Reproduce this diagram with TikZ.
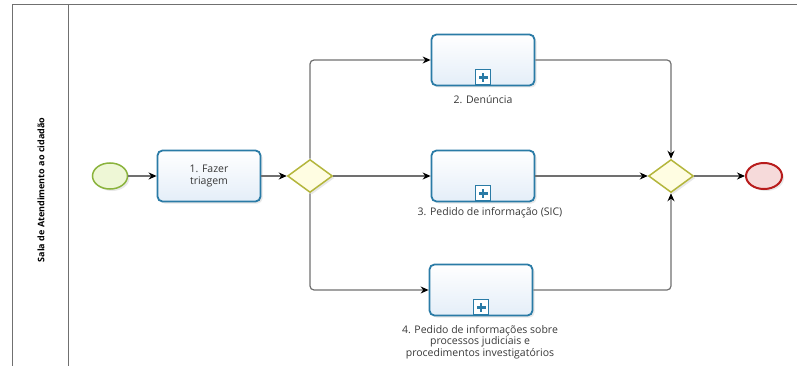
\documentclass[tikz,border=0pt]{standalone}
\usepackage{fontspec}
\setmainfont{Open Sans}
\usetikzlibrary{arrows.meta,shadows,positioning,shapes.geometric}
\definecolor{taskborder}{HTML}{2A7BA6}
\definecolor{taskfill}{HTML}{E4EEF8}
\definecolor{startborder}{HTML}{8AB33C}
\definecolor{startfill}{HTML}{EEF7D6}
\definecolor{gwborder}{HTML}{B4B63C}
\definecolor{gwfill}{HTML}{FFFDE2}
\definecolor{endborder}{HTML}{B81C1C}
\definecolor{endfill}{HTML}{F6DADA}
\definecolor{linegray}{HTML}{707070}
\definecolor{textgray}{HTML}{383838}
\tikzset{
  soft/.style={drop shadow={opacity=0.18,shadow xshift=2pt,shadow yshift=-2pt}},
  taskbox/.style={draw=taskborder,line width=1.8pt,rounded corners=5pt,
    top color=white,bottom color=taskfill,minimum width=103pt,minimum height=51pt,
    inner sep=0pt,align=center,font=\fontsize{10.5}{12}\selectfont,text=textgray,soft},
  startev/.style={draw=startborder,line width=1.5pt,ellipse,fill=startfill,
    minimum width=35pt,minimum height=26pt,inner sep=0pt,soft},
  endev/.style={draw=endborder,line width=2pt,ellipse,fill=endfill,
    minimum width=36pt,minimum height=26pt,inner sep=0pt,soft},
  gate/.style={draw=gwborder,line width=1.5pt,diamond,fill=gwfill,
    minimum width=45pt,minimum height=33pt,inner sep=0pt,soft},
  flow/.style={draw=linegray,line width=1.2pt,rounded corners=4pt,
    -{Stealth[length=8pt,width=7pt,fill=black,color=black]}},
  lbl/.style={font=\fontsize{10.5}{11.5}\selectfont,text=textgray,align=center},
  marker/.style={draw=taskborder,line width=1.3pt,fill=white,minimum size=15pt,inner sep=0pt},
  frame/.style={draw=linegray,line width=1pt}
}
\begin{document}
\begin{tikzpicture}[x=1pt,y=-1pt]
\useasboundingbox (0,0) rectangle (797,374);
% pool frame
\coordinate (ftr) at (797,5);
\coordinate (ftl) at (12,5);
\coordinate (fbl) at (12,366);
\coordinate (ltop) at (68,5);
\coordinate (lbot) at (68,366);
\draw[frame] (ftr) -- (ftl) -- (fbl);
\draw[frame] (ltop) -- (lbot);
\node[rotate=90,font=\bfseries\fontsize{9}{10}\selectfont,text=black] (lane) at (41,190) {Sala de Atendimento ao cidadão};
% nodes
\node[startev] (start) at (110,176) {};
\node[taskbox] (t1) at (209,176) {1. Fazer\\triagem};
\node[gate] (g1) at (310,176) {};
\node[taskbox] (t2) at (483,60) {};
\node[taskbox] (t3) at (483,176) {};
\node[taskbox] (t4) at (481,290) {};
\node[gate] (g2) at (671,176) {};
\node[endev] (end) at (764,176) {};
% subprocess markers
\foreach \t in {t2,t3,t4}{
  \node[marker,above=1pt of \t.south] (\t m) {};
  \fill[taskborder] ([xshift=-4.5pt,yshift=-1.4pt]\t m.center) rectangle ([xshift=4.5pt,yshift=1.4pt]\t m.center);
  \fill[taskborder] ([xshift=-1.4pt,yshift=-4.5pt]\t m.center) rectangle ([xshift=1.4pt,yshift=4.5pt]\t m.center);
}
% labels
\node[lbl] (l2) at (483,100) {2. Denúncia};
\node[lbl] (l3) at (490,213) {3. Pedido de informação (SIC)};
\node[lbl] (l4) at (480,342) {4. Pedido de informações sobre\\processos judiciais e\\procedimentos investigatórios};
% flows
\draw[flow] (start) -- (t1);
\draw[flow] (t1) -- (g1);
\draw[flow] (g1.north) |- (t2.west);
\draw[flow] (g1) -- (t3);
\draw[flow] (g1.south) |- (t4.west);
\draw[flow] (t2.east) -| (g2.north);
\draw[flow] (t3) -- (g2);
\draw[flow] (t4.east) -| (g2.south);
\draw[flow] (g2) -- (end);
\end{tikzpicture}
\end{document}
